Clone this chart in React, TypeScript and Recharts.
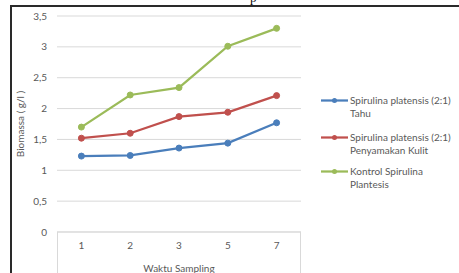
import { LineChart, Line, XAxis, YAxis, CartesianGrid } from 'recharts';

const samplingTimes = ['1', '2', '3', '5', '7'];
const tahuValues = [1.23, 1.24, 1.36, 1.44, 1.77];
const kulitValues = [1.52, 1.6, 1.87, 1.94, 2.21];
const kontrolValues = [1.7, 2.22, 2.34, 3.01, 3.3];
const yTicks = [0, 0.5, 1, 1.5, 2, 2.5, 3, 3.5];

const seriesKeys = ['tahu', 'kulit', 'kontrol'];
const seriesNames = [
  'Spirulina platensis (2:1) Tahu',
  'Spirulina platensis (2:1) Penyamakan Kulit',
  'Kontrol Spirulina Plantesis',
];
// legend text as it wraps in the picture
const legendLines = [
  ['Spirulina platensis (2:1)', 'Tahu'],
  ['Spirulina platensis (2:1)', 'Penyamakan Kulit'],
  ['Kontrol Spirulina', 'Plantesis'],
];
const seriesColors = ['#4A7EBB', '#C0504D', '#9BBB59'];

const W = 459;
const H = 273;
const margin = { top: 16, right: 158, left: 10, bottom: 0 };
const yAxisWidth = 47;
const xAxisHeight = 41;
const plotLeft = margin.left + yAxisWidth;
const plotWidth = W - margin.right - plotLeft;
const plotBottom = H - margin.bottom - xAxisHeight;
const font = 'Lato, "Open Sans", sans-serif';
const textColor = '#595959';

export default function App() {
  const data = samplingTimes.map((t, i) => ({
    time: t,
    tahu: tahuValues[i],
    kulit: kulitValues[i],
    kontrol: kontrolValues[i],
  }));
  const pad = plotWidth / (samplingTimes.length * 2);

  return (
    <div style={{ position: 'absolute', left: 0, top: 0, width: W, height: H, overflow: 'hidden', background: '#fff', fontFamily: font }}>
      {/* outer frame from the document */}
      <div style={{ position: 'absolute', left: 10, top: 5, right: -10, bottom: -10, borderTop: '2px solid #2a2a2a', borderLeft: '2px solid #2a2a2a' }} />
      <div style={{ position: 'absolute', left: 250, top: -10, fontFamily: 'serif', fontSize: 13, color: '#000' }}>p</div>

      {/* category box below the plot */}
      <div
        style={{
          position: 'absolute',
          left: plotLeft,
          top: plotBottom,
          width: plotWidth,
          height: 60,
          borderLeft: '1px solid #d9d9d9',
          borderRight: '1px solid #d9d9d9',
          boxSizing: 'border-box',
        }}
      />

      <div style={{ position: 'absolute', left: 0, top: 0 }}>
        <LineChart width={W} height={H} data={data} margin={margin}>
          <CartesianGrid vertical={false} stroke="#d9d9d9" />
          <XAxis
            dataKey="time"
            height={xAxisHeight}
            padding={{ left: pad, right: pad }}
            axisLine={{ stroke: '#d9d9d9' }}
            tickLine={false}
            tickMargin={4}
            tick={{ fontSize: 10, fill: textColor, fontFamily: font }}
            label={{ value: 'Waktu Sampling', position: 'insideBottom', offset: 1, fontSize: 10, fill: textColor, fontFamily: font }}
          />
          <YAxis
            width={yAxisWidth}
            domain={[0, 3.5]}
            ticks={yTicks}
            axisLine={false}
            tickLine={false}
            tickMargin={4}
            tickFormatter={(v: number) => String(v).replace('.', ',')}
            tick={{ fontSize: 10, fill: textColor, fontFamily: font }}
            label={{
              value: 'Biomassa ( g/l )',
              angle: -90,
              position: 'insideLeft',
              offset: 10,
              style: { textAnchor: 'middle', fontSize: 10, fill: textColor, fontFamily: font },
            }}
          />
          {seriesKeys.map((k, i) => (
            <Line
              key={k}
              dataKey={k}
              name={seriesNames[i]}
              stroke={seriesColors[i]}
              strokeWidth={2.25}
              dot={{ r: 3, fill: seriesColors[i], stroke: seriesColors[i], strokeWidth: 1 }}
              isAnimationActive={false}
            />
          ))}
        </LineChart>
      </div>

      {/* legend */}
      <div style={{ position: 'absolute', left: 321, top: 94, fontSize: 10, color: textColor, whiteSpace: 'nowrap' }}>
        {legendLines.map((lines, i) => (
          <div key={i} style={{ display: 'flex', alignItems: 'flex-start', marginBottom: i === 0 ? 11 : 8 }}>
            <svg width={27} height={13} style={{ flex: 'none' }}>
              <line x1={0} y1={6.5} x2={27} y2={6.5} stroke={seriesColors[i]} strokeWidth={2.25} />
              <circle cx={13.5} cy={6.5} r={2.5} fill={seriesColors[i]} />
            </svg>
            <div style={{ marginLeft: 2, lineHeight: '13px' }}>
              {lines.map((l, j) => (
                <div key={j}>{l}</div>
              ))}
            </div>
          </div>
        ))}
      </div>
    </div>
  );
}
